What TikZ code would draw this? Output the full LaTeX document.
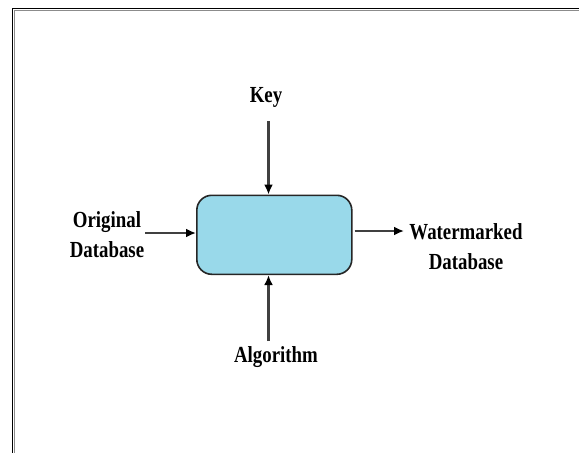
\documentclass[tikz,border=0pt]{standalone}
\usepackage{fontspec}
\setmainfont{Liberation Serif}[FakeStretch=0.82]
\usetikzlibrary{arrows.meta}
\begin{document}
\begin{tikzpicture}[x=1pt,y=-1pt,
  lbl/.style={font=\fontsize{23}{30}\selectfont\bfseries, inner sep=0pt, align=center},
  conn/.style={line width=2.2pt, draw=black!75, -{Latex[length=10pt,width=9pt,fill=black,color=black]}},
  procbox/.style={draw=black!85, line width=1.6pt, rounded corners=15pt}]
\useasboundingbox (0,0) rectangle (579,453);
\fill[white] (0,0) rectangle (579,453);
\draw[black!45, line width=1pt] (14,453) -- (14,10) -- (579,10);
\draw[black, line width=1pt] (12.5,453) -- (12.5,8.5) -- (579,8.5);
\node[procbox, fill={rgb,255:red,153;green,217;blue,234}, minimum width=155pt, minimum height=79pt, anchor=north west] (proc) at (196,194.5) {};
\node[lbl] (key) at (266,97) {Key};
\node[lbl] (alg) at (276,357) {Algorithm};
\node[lbl] (orig) at (107,235) {Original\\Database};
\node[lbl] (wm) at (466,247) {Watermarked\\Database};
\coordinate (kstart) at (268.5,121);
\coordinate (astart) at (268.5,341);
\coordinate (ostart) at (145,233);
\coordinate (wend) at (404,231);
\draw[conn] (kstart) -- (proc.north -| kstart);
\draw[conn] (astart) -- (proc.south -| astart);
\draw[conn] (ostart) -- (proc.west |- ostart);
\draw[conn] (proc.east |- wend) ++(2,0) -- (wend);
\end{tikzpicture}
\end{document}
